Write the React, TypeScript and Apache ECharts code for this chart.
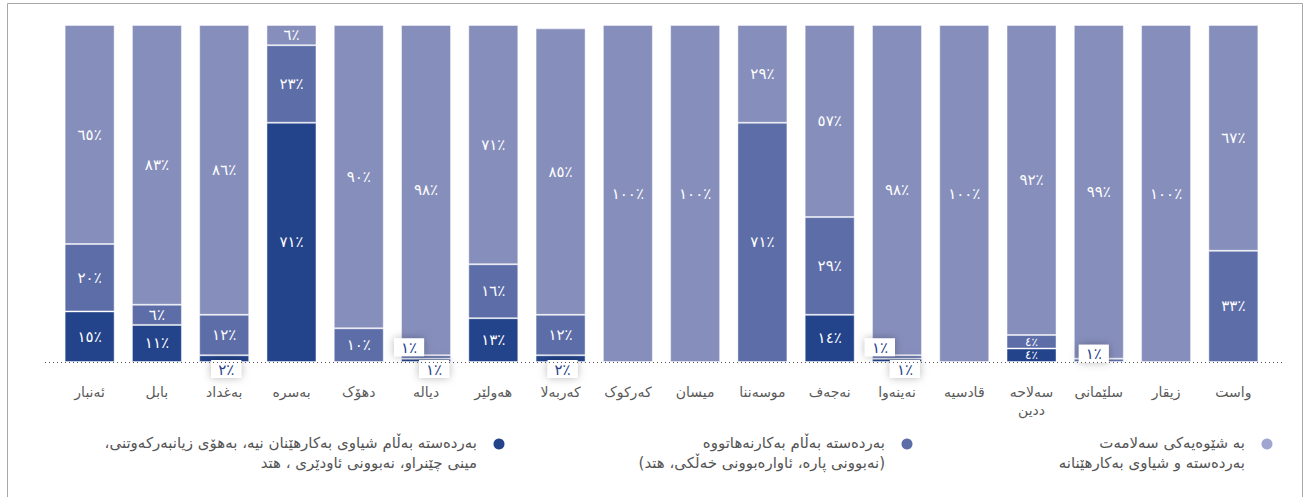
import React, { useEffect, useRef } from "react";
import * as echarts from "echarts";

const categories = [
  "ئەنبار", "بابل", "بەغداد", "بەسرە", "دهۆک", "دیالە", "هەولێر", "کەربەلا", "کەرکوک",
  "میسان", "موسەننا", "نەجەف", "نەینەوا", "قادسیە", "سەلاحەددین", "سلێمانی", "زیقار", "واست",
];

const seriesNames = [
  "بەردەستە بەڵام شیاوی بەکارهێنان نیە، بەهۆی زیانبەرکەوتنی،\nمینی چێنراو، نەبوونی ئاودێری ، هتد",
  "بەردەستە بەڵام بەکارنەهاتووە\n(نەبوونی پارە، ئاوارەبوونی خەڵکی، هتد)",
  "بە شێوەیەکی سەلامەت\nبەردەستە و شیاوی بەکارهێنانە",
];

const notUsable = [15, 11, 2, 71, 0, 1, 13, 2, 0, 0, 0, 14, 1, 0, 4, 0, 0, 0];
const notUsed = [20, 6, 12, 23, 10, 1, 16, 12, 0, 0, 71, 29, 1, 0, 4, 1, 0, 33];
const safeUsable = [65, 83, 86, 6, 90, 98, 71, 85, 100, 100, 29, 57, 98, 100, 92, 99, 100, 67];

const COLORS = ["#23438A", "#5D6DA8", "#868EBC"];
const DOT_COLORS = ["#23438A", "#5D6DA8", "#A1A6D1"];
const FONT = "'DejaVu Sans', sans-serif";
const RLM = "\u200F";

const toArabicPct = (n: number) =>
  String(n).replace(/\d/g, (d) => "٠١٢٣٤٥٦٧٨٩"[+d]) + "٪";

const rtl = (s: string) =>
  s.split("\n").map((line) => RLM + line + RLM).join("\n");

const boxLabel = {
  show: true,
  backgroundColor: "#fff",
  color: "#23438A",
  padding: [2, 7, 1, 7],
  shadowBlur: 8,
  shadowColor: "rgba(0,0,0,0.28)",
  fontSize: 15,
  fontFamily: FONT,
};

function buildData(values: number[], kind: number) {
  return values.map((v, i) => {
    if (v === 0) return { value: v, label: { show: false } };
    if (v <= 2 && kind === 0) {
      const both = notUsed[i] > 0 && notUsed[i] <= 2;
      return {
        value: v,
        label: { ...boxLabel, position: "bottom", distance: 0, offset: [both ? 8 : 2, -2] },
      };
    }
    if (v <= 2 && kind === 1) {
      const both = notUsable[i] > 0 && notUsable[i] <= 2;
      return {
        value: v,
        label: { ...boxLabel, position: "top", distance: 0, offset: [both ? -17 : -5, both ? 1 : 4] },
      };
    }
    if (v <= 5) return { value: v, label: { fontSize: 12 } };
    return v;
  });
}

export default function App() {
  const ref = useRef<HTMLDivElement>(null);

  useEffect(() => {
    if (!ref.current) return;
    const chart = echarts.init(ref.current, undefined, { renderer: "svg" });
    const valueSets = [notUsable, notUsed, safeUsable];

    const series = valueSets.map((vals, k) => ({
      name: seriesNames[k],
      type: "bar",
      stack: "total",
      barWidth: 50,
      itemStyle: { color: COLORS[k], borderColor: "rgba(255,255,255,0.45)", borderWidth: 1 },
      label: {
        show: true,
        position: "inside",
        color: "#fff",
        fontSize: 15,
        fontFamily: FONT,
        formatter: (p: any) => toArabicPct(p.value),
      },
      data: buildData(vals, k),
    }));

    const legendRight = [477, 885, 1245];
    const legendGraphics: any[] = [];
    seriesNames.forEach((name, k) => {
      legendGraphics.push({
        type: "circle",
        shape: { cx: legendRight[k] + 22, cy: 444, r: 5.5 },
        style: { fill: DOT_COLORS[k] },
        silent: true,
      });
      legendGraphics.push({
        type: "text",
        x: legendRight[k],
        y: 433,
        style: {
          text: rtl(name),
          fill: "#555",
          fontSize: 15,
          fontFamily: FONT,
          lineHeight: 20,
          textAlign: "right",
          textVerticalAlign: "top",
        },
        silent: true,
      });
    });

    const frame = {
      type: "rect",
      shape: { x: 7.5, y: 3.5, width: 1295, height: 540 },
      style: { fill: "none", stroke: "#a8a8a8", lineWidth: 1 },
      silent: true,
      z: -10,
    };

    chart.setOption({
      animation: false,
      backgroundColor: "#fff",
      grid: { left: 56, right: 41, top: 25, bottom: 135 },
      xAxis: {
        type: "category",
        data: categories,
        axisLine: { show: false },
        axisTick: { show: false },
        axisLabel: {
          color: "#5a5a5a",
          fontSize: 14,
          fontFamily: FONT,
          margin: 21,
          lineHeight: 18,
          formatter: (v: string) => (v.length > 8 ? v.slice(0, 6) + "\n" + v.slice(6) : v),
        },
      },
      yAxis: { type: "value", min: 0, max: 100, show: false, splitLine: { show: false } },
      series,
      graphic: [frame, ...legendGraphics],
    });

    const p = chart.convertToPixel({ gridIndex: 0 }, [0, 0]) as number[];
    const y0 = Math.round(p[1]) + 0.5;
    chart.setOption({
      graphic: [
        frame,
        ...legendGraphics,
        {
          type: "line",
          shape: { x1: 45, y1: y0, x2: 1282, y2: y0 },
          style: { stroke: "#555", lineWidth: 1, lineDash: [1, 3] },
          silent: true,
          z: 100,
        },
      ],
    });

    return () => chart.dispose();
  }, []);

  return (
    <div
      ref={ref}
      style={{ position: "fixed", left: 0, top: 0, width: 1308, height: 497 }}
    />
  );
}
